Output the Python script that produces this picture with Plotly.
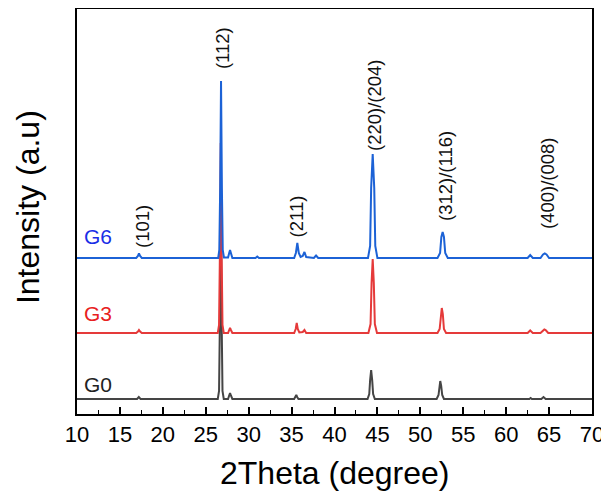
import plotly.graph_objects as go

# ---------------- data ----------------
# G6 pattern (intensity above its own baseline, a.u.)
x_g6 = [10, 16.9, 17.1, 17.22, 17.35, 17.55,
        26.45, 26.58, 26.68, 26.78, 26.88, 26.98, 27.12,
        27.6, 27.73, 27.83, 27.93, 28.1,
        30.8, 31.0, 31.2,
        35.3, 35.5, 35.67, 35.84, 36.05, 36.3, 36.5, 36.7, 37.6, 37.85, 38.1,
        43.9, 44.15, 44.27, 44.45, 44.63, 44.75, 45.0,
        52.0, 52.3, 52.45, 52.6, 52.75, 52.9, 53.2,
        62.5, 62.8, 63.1, 64.0, 64.3, 64.5, 64.7, 65.0, 70]
y_g6 = [0, 0, 2, 4.5, 2, 0,
        0, 8, 70, 177, 70, 8, 0.5,
        0.5, 5, 8, 5, 0,
        0, 1.5, 0,
        0, 5, 15, 5, 1, 2, 6, 1, 0, 2.5, 0,
        0, 12, 70, 104, 70, 12, 0,
        0, 5, 21, 26, 21, 5, 0,
        0, 3, 0, 0, 3.5, 4.5, 3.5, 0, 0]

# G3 pattern
x_g3 = [10, 16.9, 17.1, 17.22, 17.35, 17.55,
        26.4, 26.55, 26.65, 26.75, 26.85, 26.95, 27.1,
        27.6, 27.73, 27.83, 27.93, 28.1,
        35.3, 35.48, 35.6, 35.72, 35.9, 36.3, 36.5, 36.7,
        43.95, 44.2, 44.32, 44.45, 44.58, 44.7, 44.95,
        52.0, 52.25, 52.38, 52.5, 52.62, 52.75, 53.0,
        62.5, 62.8, 63.1, 64.0, 64.3, 64.45, 64.6, 64.9, 70]
y_g3 = [0, 0, 1.5, 3, 1.5, 0,
        0, 8, 80, 190, 80, 8, 0,
        0, 3, 5, 3, 0,
        0, 4, 10, 4, 0.5, 1, 3, 0,
        0, 9, 50, 74, 50, 9, 0,
        0, 4, 19, 25, 19, 4, 0,
        0, 2.5, 0, 0, 3, 3.5, 3, 0, 0]

# G0 pattern
x_g0 = [10, 17.0, 17.2, 17.4,
        26.4, 26.55, 26.65, 26.75, 26.85, 26.95, 27.1,
        27.6, 27.73, 27.83, 27.93, 28.1,
        35.3, 35.45, 35.55, 35.65, 35.8,
        43.85, 44.05, 44.15, 44.27, 44.39, 44.5, 44.7,
        51.9, 52.12, 52.21, 52.32, 52.43, 52.55, 52.75,
        62.7, 62.85, 63.0, 64.1, 64.35, 64.6, 70]
y_g0 = [0, 0, 2, 0,
        0, 8, 80, 200, 80, 8, 0,
        0, 3.5, 6, 3.5, 0,
        0, 2, 4, 2, 0,
        0, 5, 19, 29, 19, 5, 0,
        0, 4, 13, 18, 13, 4, 0,
        0, 1, 0, 0, 2, 0, 0]

sample_names = ["G0", "G3", "G6"]
stack_offsets = [0, 66, 141]

peak_labels = ["(101)", "(112)", "(211)", "(220)/(204)", "(312)/(116)", "(400)/(008)"]
peak_label_x = [17.57, 26.9, 35.63, 44.6, 52.87, 64.82]
peak_label_y = [173, 351, 182.5, 294, 223, 215.5]

x_ticks = [10, 15, 20, 25, 30, 35, 40, 45, 50, 55, 60, 65, 70]

# ---------------- styling ----------------
colors = ["#454545", "#e53a3a", "#1c62d6"]
label_colors = ["#222222", "#e82020", "#1a2ee6"]
FONT = "Liberation Sans, Arial, sans-serif"

fig = go.Figure()
series = [(x_g0, y_g0), (x_g3, y_g3), (x_g6, y_g6)]
for (xs, ys), name, off, col in zip(series, sample_names, stack_offsets, colors):
    fig.add_trace(go.Scatter(
        x=xs, y=[v + off for v in ys], mode="lines", name=name,
        line=dict(color=col, width=2), showlegend=False))

annotations = []
for t, xx, yy in zip(peak_labels, peak_label_x, peak_label_y):
    annotations.append(dict(x=xx, y=yy, xref="x", yref="y", text=t, showarrow=False,
                            textangle=-90, font=dict(family=FONT, size=18.5, color="#111111")))

sample_label_y = [15, 86, 163]
for name, yy, col in zip(sample_names, sample_label_y, label_colors):
    annotations.append(dict(x=12.45, y=yy, xref="x", yref="y", text=name, showarrow=False,
                            font=dict(family=FONT, size=21, color=col)))

annotations.append(dict(x=0.5, y=-0.1457, xref="paper", yref="paper", text="2Theta (degree)",
                        showarrow=False, xanchor="center", yanchor="middle",
                        font=dict(family=FONT, size=32, color="black")))
annotations.append(dict(x=-0.0951, y=0.511, xref="paper", yref="paper", text="Intensity (a.u)",
                        showarrow=False, textangle=-90, xanchor="center", yanchor="middle",
                        font=dict(family=FONT, size=32, color="black")))

# the page body adds an 8px offset, so the figure is 8px smaller than the window
fig.update_layout(
    width=601, height=487,
    margin=dict(l=69, r=17, t=1, b=81, autoexpand=False),
    paper_bgcolor="white", plot_bgcolor="white",
    font=dict(family=FONT, color="black"),
    annotations=annotations,
)

fig.update_xaxes(
    range=[10, 70], tickvals=x_ticks, ticktext=[str(v) for v in x_ticks],
    ticks="inside", ticklen=7, tickwidth=1.5, tickcolor="black",
    minor=dict(dtick=2.5, tick0=10, ticks="inside", ticklen=4, tickwidth=1.2, tickcolor="black"),
    showline=True, linecolor="black", linewidth=1.5, mirror=True,
    showgrid=False, zeroline=False,
    tickfont=dict(family=FONT, size=22, color="black"),
)
fig.update_yaxes(
    range=[-15, 390], showticklabels=False, ticks="",
    showline=True, linecolor="black", linewidth=1.5, mirror=True,
    showgrid=False, zeroline=False,
)

fig.write_html("out.html")
